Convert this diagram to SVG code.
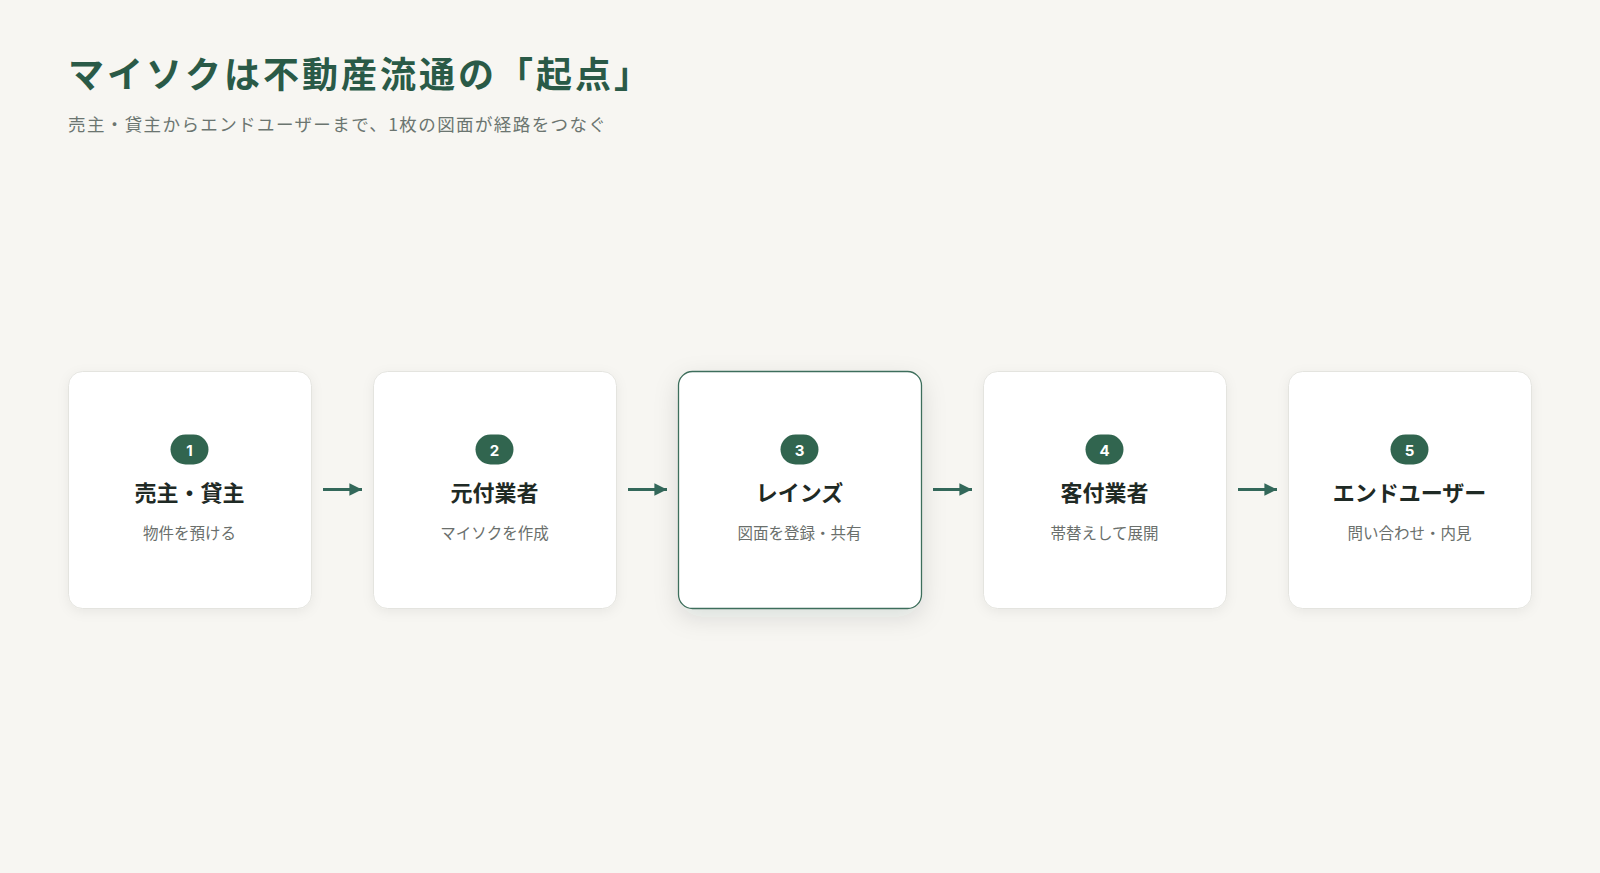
<svg xmlns="http://www.w3.org/2000/svg" width="1600" height="873" viewBox="0 0 1600 873">
<defs>
<style>
.card{fill:#ffffff;stroke:#e4e4df;stroke-width:1}
.card.hl{stroke:#3d6e5b;stroke-width:1.3}
.badge{fill:#31654f}
.num{font-family:"Inter","Noto Sans",sans-serif;font-size:15px;font-weight:700;fill:#ffffff;text-anchor:middle;dominant-baseline:central}
.ttl{font-family:"Noto Sans CJK JP",sans-serif;font-size:22px;font-weight:700;fill:#1f2a25;text-anchor:middle;dominant-baseline:central}
.sub{font-family:"Noto Sans CJK JP",sans-serif;font-size:15.5px;fill:#6a6f6c;text-anchor:middle;dominant-baseline:central}
.conn{stroke:#33685a;stroke-width:3;fill:none}
</style>
<filter id="sh" x="-20%" y="-20%" width="140%" height="140%">
<feDropShadow dx="0" dy="3" stdDeviation="6" flood-color="#000" flood-opacity="0.06"/>
</filter>
<filter id="sh2" x="-25%" y="-25%" width="150%" height="150%">
<feDropShadow dx="0" dy="8" stdDeviation="12" flood-color="#1d3a2e" flood-opacity="0.12"/>
</filter>
<marker id="ah" viewBox="0 0 10 10" refX="10" refY="5" markerWidth="4.2" markerHeight="4.6" markerUnits="strokeWidth" orient="auto">
<path d="M0,0 L10,5 L0,10 z" fill="#33685a"/>
</marker>
</defs>
<rect width="1600" height="873" fill="#f7f6f2"/>
<g id="header">
<text x="68" y="71.5" font-family="Noto Sans CJK JP, sans-serif" font-size="36" font-weight="700" fill="#2a5a47" dominant-baseline="central" letter-spacing="3">マイソクは不動産流通の「起点」</text>
<text x="68" y="123.5" font-family="Noto Sans CJK JP, sans-serif" font-size="17.5" fill="#6b7570" dominant-baseline="central" letter-spacing="1.4">売主・貸主からエンドユーザーまで、1枚の図面が経路をつなぐ</text>
</g>
<g id="connectors">
<line class="conn" x1="323" y1="489.5" x2="362" y2="489.5" marker-end="url(#ah)"/>
<line class="conn" x1="628" y1="489.5" x2="667" y2="489.5" marker-end="url(#ah)"/>
<line class="conn" x1="933" y1="489.5" x2="972" y2="489.5" marker-end="url(#ah)"/>
<line class="conn" x1="1238" y1="489.5" x2="1277" y2="489.5" marker-end="url(#ah)"/>
</g>
<g id="node1">
<rect class="card" x="68.5" y="371.5" width="243" height="237" rx="14" filter="url(#sh)"/>
<rect class="badge" x="170.5" y="434.5" width="38" height="30" rx="15"/>
<text class="num" x="189.5" y="450">1</text>
<text class="ttl" x="189.5" y="491">売主・貸主</text>
<text class="sub" x="189.5" y="531.5">物件を預ける</text>
</g>
<g id="node2">
<rect class="card" x="373.5" y="371.5" width="243" height="237" rx="14" filter="url(#sh)"/>
<rect class="badge" x="475.5" y="434.5" width="38" height="30" rx="15"/>
<text class="num" x="494.5" y="450">2</text>
<text class="ttl" x="494.5" y="491">元付業者</text>
<text class="sub" x="494.5" y="531.5">マイソクを作成</text>
</g>
<g id="node3">
<rect class="card hl" x="678.5" y="371.5" width="243" height="237" rx="14" filter="url(#sh2)"/>
<rect class="badge" x="780.5" y="434.5" width="38" height="30" rx="15"/>
<text class="num" x="799.5" y="450">3</text>
<text class="ttl" x="799.5" y="491">レインズ</text>
<text class="sub" x="799.5" y="531.5">図面を登録・共有</text>
</g>
<g id="node4">
<rect class="card" x="983.5" y="371.5" width="243" height="237" rx="14" filter="url(#sh)"/>
<rect class="badge" x="1085.5" y="434.5" width="38" height="30" rx="15"/>
<text class="num" x="1104.5" y="450">4</text>
<text class="ttl" x="1104.5" y="491">客付業者</text>
<text class="sub" x="1104.5" y="531.5">帯替えして展開</text>
</g>
<g id="node5">
<rect class="card" x="1288.5" y="371.5" width="243" height="237" rx="14" filter="url(#sh)"/>
<rect class="badge" x="1390.5" y="434.5" width="38" height="30" rx="15"/>
<text class="num" x="1409.5" y="450">5</text>
<text class="ttl" x="1409.5" y="491">エンドユーザー</text>
<text class="sub" x="1409.5" y="531.5">問い合わせ・内見</text>
</g>
</svg>
